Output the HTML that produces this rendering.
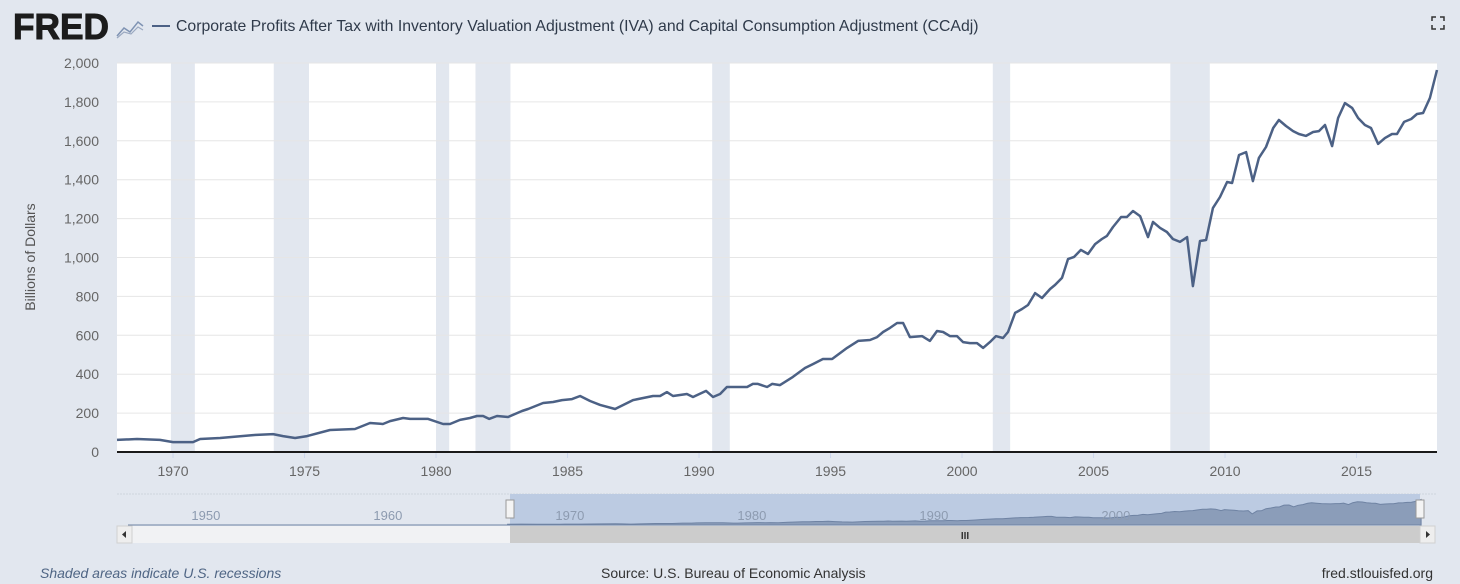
<!DOCTYPE html>
<html><head><meta charset="utf-8">
<style>
html,body{margin:0;padding:0;background:#e2e7ef;width:1460px;height:584px;overflow:hidden;font-family:"Liberation Sans",sans-serif;}
svg text{font-family:"Liberation Sans",sans-serif;}
</style></head>
<body>
<svg id="chart" width="1460" height="584" xmlns="http://www.w3.org/2000/svg">
  <rect x="0" y="0" width="1460" height="584" fill="#e2e7ef"/>
  <g>
    <text x="13" y="39" font-size="36" font-weight="bold" fill="#1c1c1c" stroke="#1c1c1c" stroke-width="1" letter-spacing="0" textLength="96" lengthAdjust="spacingAndGlyphs">FRED</text>
    <polyline points="117,36 124,28 130,32 138,22 143,26" fill="none" stroke="#7f93b3" stroke-width="1.5"/>
    <polyline points="117,38 124,32 131,34 138,27 143,30" fill="none" stroke="#9aa8c0" stroke-width="1.2"/>
  </g>
  <line x1="152" y1="26" x2="170" y2="26" stroke="#4c6185" stroke-width="2"/>
  <text x="176" y="31" font-size="15.8" fill="#2f3a4a">Corporate Profits After Tax with Inventory Valuation Adjustment (IVA) and Capital Consumption Adjustment (CCAdj)</text>
  <g stroke="#333" stroke-width="1.5" fill="none">
    <polyline points="1432,21 1432,17 1436,17"/><polyline points="1440,17 1444,17 1444,21"/>
    <polyline points="1432,25 1432,29 1436,29"/><polyline points="1440,29 1444,29 1444,25"/>
  </g>
  <rect x="117" y="63" width="1320" height="389" fill="#ffffff"/>
  <g id="rec"></g><g id="grid"></g><g id="yticks"></g><g id="xticks"></g>
  <path id="line" fill="none" stroke="#4c6185" stroke-width="2.5" stroke-linejoin="round"/>
  <line x1="117" y1="452" x2="1437" y2="452" stroke="#1a1a1a" stroke-width="2"/>
  <text transform="translate(35,257) rotate(-90)" text-anchor="middle" font-size="14" fill="#555">Billions of Dollars</text>

  <g>
    <line x1="117" y1="494" x2="1437" y2="494" stroke="#cfd5de" stroke-width="1" stroke-dasharray="2,1"/>
    <rect x="510" y="494" width="910" height="31" fill="#bccbe2"/>
    <path id="navarea" fill="#8b9db9" stroke="#6f83a3" stroke-width="1"/>
    <line x1="128" y1="525" x2="1420" y2="525" stroke="#6f83a3" stroke-width="1"/>
    <g id="navlabels"></g>
    <rect x="506" y="500" width="8" height="18" fill="#f4f4f4" stroke="#999"/>
    <rect x="1416" y="500" width="8" height="18" fill="#f4f4f4" stroke="#999"/>
  </g>
  <g>
    <rect x="117" y="526" width="1318" height="17" fill="#f1f2f4"/>
    <rect x="510" y="526" width="910" height="17" fill="#cccccc"/>
    <text x="965" y="539" font-size="10" fill="#333" text-anchor="middle" font-weight="bold">III</text>
    <rect x="117" y="526" width="15" height="17" fill="#eeeeee" stroke="#d0d0d0"/>
    <polygon points="126,531 122,534.5 126,538" fill="#333"/>
    <rect x="1420" y="526" width="15" height="17" fill="#eeeeee" stroke="#d0d0d0"/>
    <polygon points="1426,531 1430,534.5 1426,538" fill="#333"/>
  </g>
  <text x="40" y="578" font-size="14" font-style="italic" fill="#4f6584">Shaded areas indicate U.S. recessions</text>
  <text x="601" y="578" font-size="14" fill="#333">Source: U.S. Bureau of Economic Analysis</text>
  <text x="1433" y="578" font-size="14" fill="#333" text-anchor="end">fred.stlouisfed.org</text>
</svg>
<script>
const years = [1967.87,1968.63,1969.5,1970.0,1970.76,1971.03,1971.79,1973.04,1973.8,1974.18,1974.64,1975.1,1975.97,1976.92,1977.49,1977.98,1978.25,1978.75,1979.01,1979.7,1980.27,1980.53,1980.91,1981.29,1981.56,1981.79,1982.02,1982.32,1982.74,1983.27,1983.5,1984.07,1984.45,1984.79,1985.17,1985.48,1985.86,1986.24,1986.81,1987.49,1988.25,1988.52,1988.78,1989.01,1989.54,1989.77,1990.27,1990.53,1990.8,1991.06,1991.44,1991.83,1992.05,1992.24,1992.59,1992.78,1993.08,1993.57,1994.03,1994.33,1994.71,1995.06,1995.63,1996.05,1996.5,1996.77,1997.0,1997.26,1997.53,1997.76,1998.02,1998.48,1998.78,1999.05,1999.28,1999.54,1999.81,2000.04,2000.3,2000.57,2000.8,2001.06,2001.29,2001.56,2001.75,2002.02,2002.28,2002.51,2002.78,2003.04,2003.35,2003.54,2003.8,2004.03,2004.26,2004.52,2004.79,2005.06,2005.32,2005.51,2005.74,2006.05,2006.27,2006.5,2006.77,2007.07,2007.26,2007.53,2007.79,2008.02,2008.29,2008.56,2008.78,2009.05,2009.28,2009.54,2009.81,2010.08,2010.27,2010.53,2010.8,2011.06,2011.29,2011.56,2011.83,2012.05,2012.32,2012.59,2012.81,2013.08,2013.35,2013.57,2013.8,2014.07,2014.3,2014.56,2014.83,2015.06,2015.32,2015.55,2015.82,2016.08,2016.35,2016.54,2016.81,2017.08,2017.3,2017.53,2017.79,2018.06];
const profits = [62,67,62,51,51,67,72,87,92,82,72,82,113,118,149,144,159,175,170,170,144,144,165,175,185,185,170,185,180,211,221,252,257,267,272,288,262,242,221,267,288,288,308,288,298,283,314,283,298,334,334,334,350,350,334,350,344,386,432,452,478,478,535,571,576,591,617,638,663,663,591,596,571,622,617,596,596,565,560,560,535,565,596,586,617,715,735,756,817,792,838,859,895,992,1003,1039,1018,1069,1095,1111,1157,1208,1208,1239,1213,1105,1183,1152,1131,1095,1080,1105,853,1085,1090,1254,1311,1388,1383,1527,1542,1393,1512,1568,1666,1707,1676,1650,1635,1625,1645,1650,1681,1573,1717,1794,1769,1717,1681,1666,1584,1614,1635,1635,1697,1712,1738,1743,1820,1964];
const recStart = [1969.92,1973.83,1980.0,1981.5,1990.5,2001.17,2007.92];
const recEnd = [1970.83,1975.17,1980.5,1982.83,1991.17,2001.83,2009.42];
const yTicks = [0,200,400,600,800,1000,1200,1400,1600,1800,2000];
const xTicks = [1970,1975,1980,1985,1990,1995,2000,2005,2010,2015];
const navTicks = [1950,1960,1970,1980,1990,2000];

const NS='http://www.w3.org/2000/svg';
const X0=117,X1=1437,Y0=452,Y1=63,D0=1967.87,D1=2018.06,V1=2000;
const x=d=>X0+(d-D0)/(D1-D0)*(X1-X0);
const y=v=>Y0-v/V1*(Y0-Y1);
const nx=d=>510+(d-1968)*18.2;
const ny=v=>525-v/2000*26;
function mk(tag,attrs,parent){const e=document.createElementNS(NS,tag);for(const k in attrs)e.setAttribute(k,attrs[k]);parent.appendChild(e);return e;}
const rec=document.getElementById('rec');
recStart.forEach((s,i)=>{const r=mk('rect',{x:x(s),y:Y1,width:x(recEnd[i])-x(s),height:Y0-Y1,fill:'#e2e7ef'},rec);

});
const grid=document.getElementById('grid'),yt=document.getElementById('yticks');
yTicks.forEach(v=>{if(v>0){const l=mk('line',{x1:X0,x2:X1,y1:y(v),y2:y(v),stroke:'#e6e6e6','stroke-width':1},grid);

}
const t=mk('text',{x:99,y:y(v)+5,'text-anchor':'end','font-size':14,fill:'#666'},yt);t.textContent=v.toLocaleString('en-US');

});
const xt=document.getElementById('xticks');
xTicks.forEach(d=>{const tk=mk('line',{x1:x(d),x2:x(d),y1:452,y2:458,stroke:'#ccd6eb'},xt);


const t=mk('text',{x:x(d),y:476,'text-anchor':'middle','font-size':14,fill:'#666'},xt);t.textContent=d;

});
document.getElementById('line').setAttribute('d',years.map((d,i)=>(i?'L':'M')+x(d).toFixed(1)+','+y(profits[i]).toFixed(1)).join(''));
let np='M'+nx(years[0]).toFixed(1)+',525';
years.forEach((d,i)=>{np+='L'+nx(d).toFixed(1)+','+ny(profits[i]).toFixed(1);});
np+='L'+nx(years[years.length-1]).toFixed(1)+',525Z';
document.getElementById('navarea').setAttribute('d',np);
const nl=document.getElementById('navlabels');
navTicks.forEach(d=>{const t=mk('text',{x:nx(d)+9,y:520,'font-size':13,fill:'#8d9bb0'},nl);t.textContent=d;

});
</script>
</body></html>
